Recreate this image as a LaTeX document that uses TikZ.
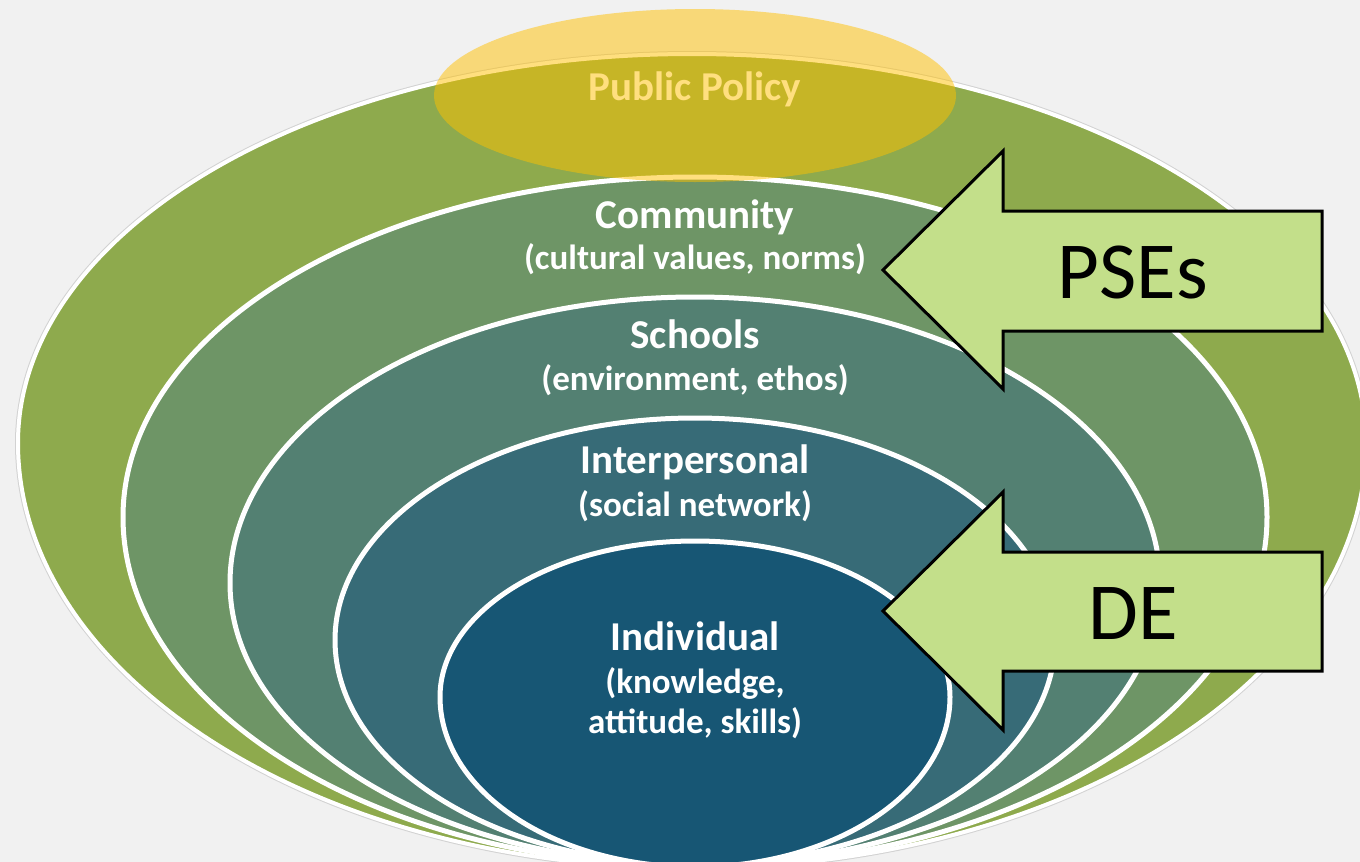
\documentclass[tikz,border=0pt]{standalone}
\usepackage{fontspec}
\setmainfont{Carlito}
\definecolor{bg}{HTML}{F1F1F1}
\definecolor{ringA}{HTML}{8EAA4D}
\definecolor{ringB}{HTML}{6E9566}
\definecolor{ringC}{HTML}{538072}
\definecolor{ringD}{HTML}{376B77}
\definecolor{ringE}{HTML}{175674}
\definecolor{arrowgreen}{HTML}{C3DF8A}
\definecolor{policy}{RGB}{255,192,0}
\begin{document}
\begin{tikzpicture}[x=1pt,y=-1pt,
  ring/.style={fill=#1, draw=white, line width=5pt},
  ringtitle/.style={text=white, font=\bfseries\fontsize{41}{49}\selectfont, anchor=base, inner sep=0pt},
  ringsub/.style={text=white, font=\bfseries\fontsize{35}{42}\selectfont, anchor=base, inner sep=0pt},
  bigarrow/.style={fill=arrowgreen, draw=black, line width=3pt, line join=miter},
  arrowtext/.style={text=black, font=\fontsize{81}{97}\selectfont, anchor=base, inner sep=0pt}]
\useasboundingbox (0,0) rectangle (1360,862);
\clip (0,0) rectangle (1360,862);
\fill[bg] (0,0) rectangle (1360,862);
% rings, outer to inner
\draw[gray!35, line width=6pt] (18,443) arc[start angle=180,end angle=360,x radius=674pt,y radius=425pt] arc[start angle=0,end angle=180,x radius=674pt,y radius=389pt] -- cycle;
\path[ring=ringA, line width=4pt] (18,443) arc[start angle=180,end angle=360,x radius=674pt,y radius=425pt] arc[start angle=0,end angle=180,x radius=674pt,y radius=389pt] -- cycle;
\path[ring=ringB] (123,517) arc[start angle=180,end angle=360,x radius=572pt,y radius=349pt] arc[start angle=0,end angle=180,x radius=572pt,y radius=340pt] -- cycle;
\path[ring=ringC] (230,583) arc[start angle=180,end angle=360,x radius=465pt,y radius=282pt] arc[start angle=0,end angle=180,x radius=465pt,y radius=286pt] -- cycle;
\path[ring=ringD] (335,640) arc[start angle=180,end angle=360,x radius=360pt,y radius=225pt] arc[start angle=0,end angle=180,x radius=360pt,y radius=222pt] -- cycle;
\path[ring=ringE] (440,697) arc[start angle=180,end angle=360,x radius=255pt,y radius=170pt] arc[start angle=0,end angle=180,x radius=255pt,y radius=156pt] -- cycle;
% ring labels
\node[ringtitle] (community) at (695,228) {Community};
\node[ringsub] (communitysub) at (695,269) {(cultural values, norms)};
\node[ringtitle] (schools) at (695,348) {Schools};
\node[ringsub] (schoolssub) at (695,390) {(environment, ethos)};
\node[ringtitle] (interpersonal) at (695,473) {Interpersonal};
\node[ringsub] (interpersonalsub) at (695,516) {(social network)};
\node[ringtitle] (individual) at (695,650) {Individual};
\node[ringsub] (individualsub) at (695,693) {(knowledge,};
\node[ringsub] (individualsubb) at (695,733) {attitude, skills)};
% public policy
\node[ringtitle] (policytext) at (695,100) {Public Policy};
\path[fill=policy, fill opacity=0.5] (695,95.5) ellipse [x radius=261pt, y radius=86.5pt];
% arrows
\path[bigarrow] (883,270) -- (1003,151) -- (1003,211) -- (1322,211) -- (1322,331) -- (1003,331) -- (1003,389) -- cycle;
\node[arrowtext] (pses) at (1133,298) {PSEs};
\path[bigarrow] (883,611) -- (1003,492) -- (1003,552) -- (1322,552) -- (1322,671) -- (1003,671) -- (1003,730) -- cycle;
\node[arrowtext] (de) at (1133,639) {DE};
\end{tikzpicture}
\end{document}
